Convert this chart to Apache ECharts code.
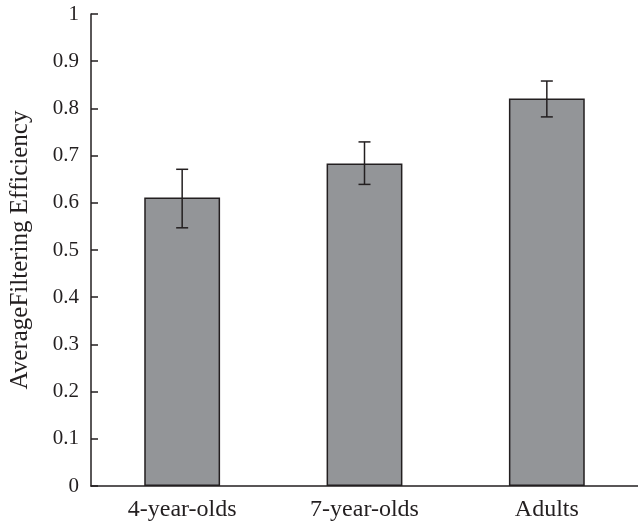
<!DOCTYPE html>
<html><head><meta charset="utf-8">
<script src="https://cdn.jsdelivr.net/npm/echarts@6/dist/echarts.min.js"></script>
<style>html,body{margin:0;padding:0;background:#fff}#c{width:638px;height:526px}</style>
</head><body><div id="c"></div>
<script>
var categories = ['4-year-olds', '7-year-olds', 'Adults'];
var means = [0.611, 0.683, 0.821];
var errLow = [0.547, 0.639, 0.782];
var errHigh = [0.671, 0.729, 0.858];
var yTicks = [0, 0.1, 0.2, 0.3, 0.4, 0.5, 0.6, 0.7, 0.8, 0.9, 1];

var ink = '#231f20';
var font = 'Liberation Serif';
var chart = echarts.init(document.getElementById('c'));
chart.setOption({
  animation: false,
  grid: {left: 90, right: 0, top: 14, bottom: 40},
  xAxis: {
    type: 'category', data: categories,
    axisLine: {lineStyle: {color: ink, width: 1.5}},
    axisTick: {inside: true, length: 6, lineStyle: {color: ink, width: 1.5}},
    axisLabel: {color: ink, fontFamily: font, fontSize: 24, margin: 12}
  },
  yAxis: {
    type: 'value', min: 0, max: 1, interval: 0.1,
    name: 'AverageFiltering Efficiency', nameLocation: 'middle', nameGap: 58,
    nameTextStyle: {color: ink, fontFamily: font, fontSize: 25},
    axisLine: {show: true, lineStyle: {color: ink, width: 1.5}},
    axisTick: {show: true, inside: true, length: 7, lineStyle: {color: ink, width: 1.5}},
    axisLabel: {color: ink, fontFamily: font, fontSize: 21, margin: 12,
      formatter: function(v){ return String(Math.round(v*10)/10); }},
    splitLine: {show: false}
  },
  series: [{
    type: 'bar', data: means, barWidth: '41.6%',
    itemStyle: {color: '#939598', borderColor: ink, borderWidth: 1.5}
  }, {
    type: 'custom',
    data: categories.map(function(c, i){ return [i, errLow[i], errHigh[i]]; }),
    renderItem: function(params, api){
      var lo = api.coord([api.value(0), api.value(1)]);
      var hi = api.coord([api.value(0), api.value(2)]);
      var hw = 6;
      var st = {stroke: ink, lineWidth: 1.5};
      return {type: 'group', children: [
        {type: 'line', shape: {x1: hi[0], y1: hi[1], x2: lo[0], y2: lo[1]}, style: st},
        {type: 'line', shape: {x1: hi[0]-hw, y1: hi[1], x2: hi[0]+hw, y2: hi[1]}, style: st},
        {type: 'line', shape: {x1: lo[0]-hw, y1: lo[1], x2: lo[0]+hw, y2: lo[1]}, style: st}
      ]};
    },
    z: 10
  }]
});
</script></body></html>
